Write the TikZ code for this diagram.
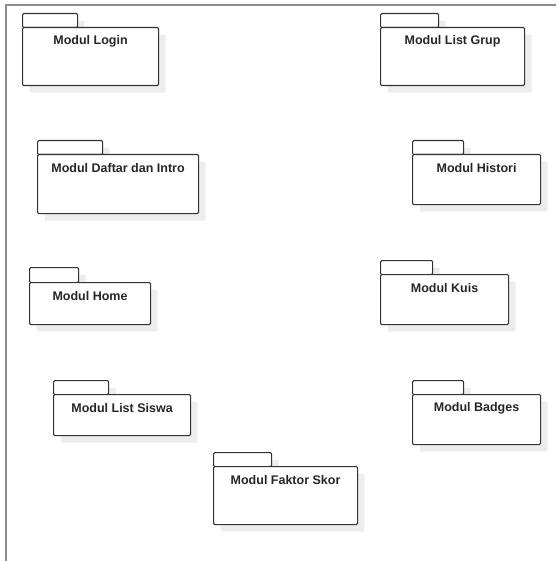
\documentclass[tikz,border=0pt]{standalone}
\usepackage{fontspec}
\setmainfont{Liberation Sans}
\usetikzlibrary{shadows}

\tikzset{
  pkgshape/.style={draw=black!80, line width=1.1pt, fill=white, rounded corners=1.2pt,
    inner sep=0pt, anchor=north west,
    general shadow={fill=black!7, shadow xshift=7pt, shadow yshift=-7pt}},
  pkglabel/.style={font=\fontsize{12.5}{14}\selectfont\bfseries, text=black!85, inner sep=0pt}
}

% #1 name, #2 x, #3 y (top-left of body), #4 body width, #5 body height,
% #6 tab width, #7 tab height, #8 title
\newcommand\umlpkg[8]{%
  \node[pkgshape, minimum width=#6pt, minimum height=#7pt]
    (#1-tab) at (#2,#3-#7) {};
  \node[pkgshape, minimum width=#4pt, minimum height=#5pt]
    (#1) at (#2,#3) {};
  \node[pkglabel] (#1-title) at ([yshift=-14pt]#1.north) {#8};
}

\begin{document}
\begin{tikzpicture}[x=1pt, y=-1pt]
  \useasboundingbox (0,0) rectangle (556,561);

  % diagram frame (left and top edges)
  \draw[black!45, line width=2pt] (6,561) -- (6,5) -- (556,5);

  \umlpkg{login}{22}{27}{136}{58}{55}{14}{Modul Login}
  \umlpkg{grup}{380}{27}{144}{58}{58}{14}{Modul List Grup}
  \umlpkg{daftar}{37}{154}{161}{59}{65}{14}{Modul Daftar dan Intro}
  \umlpkg{histori}{412}{154}{128}{50}{51}{14}{Modul Histori}
  \umlpkg{home}{29}{282}{121}{42}{49}{15}{Modul Home}
  \umlpkg{kuis}{380}{274}{128}{50}{52}{14}{Modul Kuis}
  \umlpkg{siswa}{53}{394}{137}{41}{55}{14}{Modul List Siswa}
  \umlpkg{badges}{412}{394}{128}{50}{51}{14}{Modul Badges}
  \umlpkg{faktor}{213}{466}{144}{58}{58}{14}{Modul Faktor Skor}
\end{tikzpicture}
\end{document}
